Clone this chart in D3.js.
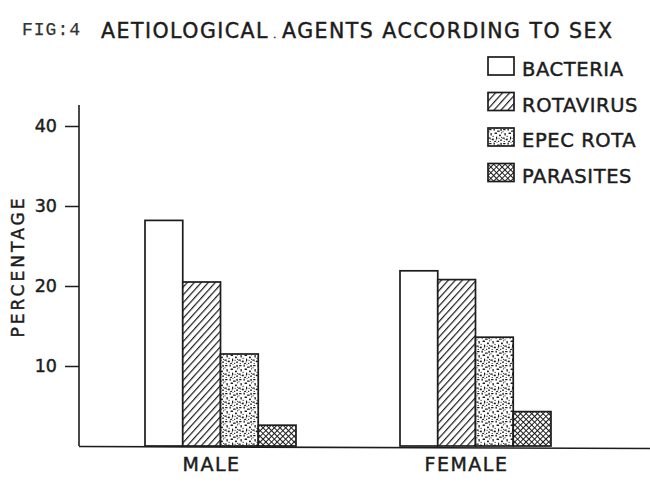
<!DOCTYPE html>
<html>
<head>
<meta charset="utf-8">
<script src="https://cdn.jsdelivr.net/npm/d3@7"></script>
<style>
  body { margin: 0; background: #fff; }
  svg { display: block; }
  text { stroke: #1c1c1c; stroke-width: 0.45px; }
</style>
</head>
<body>
<svg width="650" height="485"></svg>
<script>
// chart values
const groups = ["MALE", "FEMALE"];
const agents = ["BACTERIA", "ROTAVIRUS", "EPEC ROTA", "PARASITES"];
const maleValues = [28.2, 20.5, 11.5, 2.6];
const femaleValues = [21.9, 20.8, 13.6, 4.3];
const yTicks = [10, 20, 30, 40];

let width = 650;
let height = 485;
let ink = "#1c1c1c";
let font = "'DejaVu Sans', sans-serif";

let svg = d3.select("svg");

// rows for the bars: one per group and agent
let rows = [];
groups.forEach(function(g, gi) {
    let vals = gi == 0 ? maleValues : femaleValues;
    agents.forEach(function(a, ai) {
        rows.push({ group: g, agent: a, value: vals[ai] });
    });
});

let fills = {
    "BACTERIA": "#fff",
    "ROTAVIRUS": "url(#hatch)",
    "EPEC ROTA": "url(#speckle)",
    "PARASITES": "url(#cross)"
};

function make_patterns(defs) {
    // single diagonal hatch ///
    let hatch = defs.append("pattern")
        .attr("id", "hatch")
        .attr("patternUnits", "userSpaceOnUse")
        .attr("width", 5.2).attr("height", 5.2)
        .attr("patternTransform", "rotate(42)");
    hatch.append("rect").attr("width", 5.2).attr("height", 5.2).attr("fill", "#fff");
    hatch.append("line")
        .attr("x1", 0).attr("y1", 0).attr("x2", 0).attr("y2", 5.2)
        .attr("stroke", ink).attr("stroke-width", 2.4);

    // fine cross hatch, looks dark with small holes
    let cross = defs.append("pattern")
        .attr("id", "cross")
        .attr("patternUnits", "userSpaceOnUse")
        .attr("width", 4).attr("height", 4)
        .attr("patternTransform", "rotate(45)");
    cross.append("rect").attr("width", 4).attr("height", 4).attr("fill", "#fff");
    cross.append("path")
        .attr("d", "M0,0H4M0,0V4")
        .attr("stroke", ink).attr("stroke-width", 2);

    // stipple: little irregular specks in a tile
    let specks = [
        [1, 1, 2.6, 1.2], [5.5, 0.5, 1.3, 2.2], [9, 2.5, 2.8, 1.3], [12.5, 0.8, 1.2, 2.4],
        [2.5, 5, 1.3, 2.6], [6.5, 4.5, 2.6, 1.4], [11, 6.5, 1.9, 1.7], [0.2, 9.5, 2.7, 1.2],
        [4, 10.5, 1.8, 1.8], [8, 8.5, 1.2, 2.9], [12, 11.5, 2.2, 1.3], [6, 13, 2.1, 1],
        [1.5, 13, 1.4, 1], [10, 12.8, 1.3, 1.2], [13.2, 4, 0.8, 1.6], [4.5, 7.8, 1.2, 1.2],
        [8.5, 0, 1, 1], [0.5, 3.2, 1, 1.2], [10.5, 9.8, 1.2, 1], [2.5, 11, 1, 1],
        [7.5, 11.6, 1, 1], [13, 8.8, 1, 1.2]
    ];
    let speckle = defs.append("pattern")
        .attr("id", "speckle")
        .attr("patternUnits", "userSpaceOnUse")
        .attr("width", 14).attr("height", 14);
    speckle.append("rect").attr("width", 14).attr("height", 14).attr("fill", "#fff");
    speckle.selectAll("rect.s")
        .data(specks)
        .join("rect")
        .attr("class", "s")
        .attr("x", d => d[0]).attr("y", d => d[1])
        .attr("width", d => d[2]).attr("height", d => d[3])
        .attr("rx", 0.4)
        .attr("fill", ink);
}

make_patterns(svg.append("defs"));

// scales
let y = d3.scaleLinear()
    .domain([0, 40])
    .range([446, 126]);

let x0 = d3.scaleBand()
    .domain(groups)
    .range([93, 603]);

let x1 = d3.scaleBand()
    .domain(agents)
    .range([52, 203]);

let axisLeft = 79;

// bars
svg.append("g")
    .selectAll("rect")
    .data(rows)
    .join("rect")
    .attr("x", d => x0(d.group) + x1(d.agent))
    .attr("y", d => y(d.value))
    .attr("width", x1.bandwidth())
    .attr("height", d => y(0) - y(d.value))
    .attr("fill", d => fills[d.agent])
    .attr("stroke", ink)
    .attr("stroke-width", 1.7);

// y axis, ticks on the left side
let yAxis = svg.append("g")
    .attr("transform", `translate(${axisLeft},0)`)
    .call(d3.axisLeft(y).tickValues(yTicks).tickSize(14).tickPadding(8));
yAxis.select(".domain").remove();
yAxis.selectAll("line").attr("stroke", ink).attr("stroke-width", 1.5);
yAxis.selectAll("text")
    .attr("fill", ink)
    .style("font-family", font)
    .style("font-size", "17.5px");

svg.append("line")
    .attr("x1", axisLeft).attr("x2", axisLeft)
    .attr("y1", y(0)).attr("y2", y(40) - 21)
    .attr("stroke", ink).attr("stroke-width", 1.6);

// x axis: baseline plus group names
svg.append("line")
    .attr("x1", axisLeft).attr("x2", width)
    .attr("y1", y(0) + 0.5).attr("y2", y(0) + 2.5)
    .attr("stroke", ink).attr("stroke-width", 1.6);

let xAxis = svg.append("g")
    .attr("transform", `translate(0,${y(0)})`)
    .call(d3.axisBottom(x0).tickSize(0).tickPadding(12));
xAxis.select(".domain").remove();
xAxis.selectAll("text")
    .attr("dx", -9)
    .attr("fill", ink)
    .style("font-family", font)
    .style("font-size", "19px")
    .style("letter-spacing", "1.5px");

// y axis title
svg.append("text")
    .attr("transform", "translate(24,268) rotate(-90)")
    .attr("text-anchor", "middle")
    .attr("textLength", 139)
    .attr("lengthAdjust", "spacing")
    .attr("fill", ink)
    .style("font-family", font)
    .style("font-size", "17px")
    .text("PERCENTAGE");

// figure title
svg.append("text")
    .attr("x", 22).attr("y", 35)
    .attr("textLength", 58)
    .attr("lengthAdjust", "spacing")
    .attr("fill", "#333")
    .style("stroke", "#333")
    .style("stroke-width", "0.25px")
    .style("font-family", "'Liberation Mono', monospace")
    .style("font-size", "18px")
    .text("FIG:4");

let title = svg.append("text")
    .attr("x", 101).attr("y", 38)
    .attr("textLength", 511)
    .attr("lengthAdjust", "spacing")
    .attr("fill", ink)
    .style("font-family", font)
    .style("font-size", "20.5px");
title.append("tspan").text("AETIOLOGICAL");
title.append("tspan").style("font-size", "9px").text(" . ");
title.append("tspan").text("AGENTS ACCORDING TO SEX");

// legend
let legend = svg.append("g")
    .selectAll("g")
    .data(agents)
    .join("g")
    .attr("transform", (d, i) => `translate(488,${57 + i * 35.5})`);

legend.append("rect")
    .attr("width", 26)
    .attr("height", 18)
    .attr("fill", d => fills[d])
    .attr("stroke", ink)
    .attr("stroke-width", 1.7);

legend.append("text")
    .attr("x", 34)
    .attr("y", 19)
    .attr("fill", ink)
    .style("font-family", font)
    .style("font-size", "19.5px")
    .style("letter-spacing", "0.6px")
    .text(d => d);
</script>
</body>
</html>
